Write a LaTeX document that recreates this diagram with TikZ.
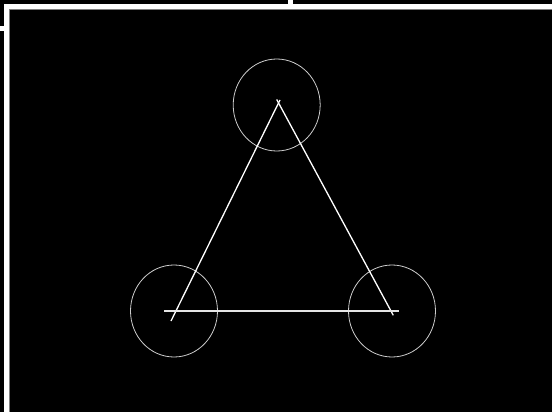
\documentclass[tikz,border=0pt]{standalone}
\begin{document}
\begin{tikzpicture}[x=1pt,y=-1pt,
  frameline/.style={draw=white,line width=5pt},
  triline/.style={draw=white,line width=1.3pt},
  ring/.style={draw=white!80!black,line width=0.8pt}]
\useasboundingbox (0,0) rectangle (552,412);
\fill[black] (0,0) rectangle (552,412);
% frame
\coordinate (f1) at (0,28.5);
\coordinate (f2) at (6.5,28.5);
\coordinate (f3) at (6.5,6.5);
\coordinate (f4) at (552,6.5);
\coordinate (f5) at (6.5,412);
\coordinate (s1) at (290,0);
\coordinate (s2) at (290,6.5);
\draw[frameline] (f1) -- (f2);
\draw[frameline] (f2) -- (f3) -- (f4);
\draw[frameline] (f2) -- (f5);
\draw[frameline] (s1) -- (s2);
\coordinate (g1) at (9.5,412);
\coordinate (g2) at (9.5,9.5);
\coordinate (g3) at (552,9.5);
\draw[gray,line width=1pt] (g1) -- (g2) -- (g3);
% circles
\coordinate (ct) at (276.7,105);
\coordinate (cl) at (174,311);
\coordinate (cr) at (392,311);
\draw[ring] (ct) ellipse [x radius=43.5, y radius=46];
\draw[ring] (cl) ellipse [x radius=43.5, y radius=46];
\draw[ring] (cr) ellipse [x radius=43.5, y radius=46];
% triangle
\coordinate (a1) at (280,100);
\coordinate (a2) at (276.7,99.5);
\coordinate (bl) at (171,321);
\coordinate (br) at (393.3,315.3);
\coordinate (h1) at (164,311);
\coordinate (h2) at (399,311);
\draw[triline] (bl) -- (a1);
\draw[triline] (a2) -- (br);
\draw[draw=white!90!black,line width=1.1pt] (h1) -- (h2);
\end{tikzpicture}
\end{document}
